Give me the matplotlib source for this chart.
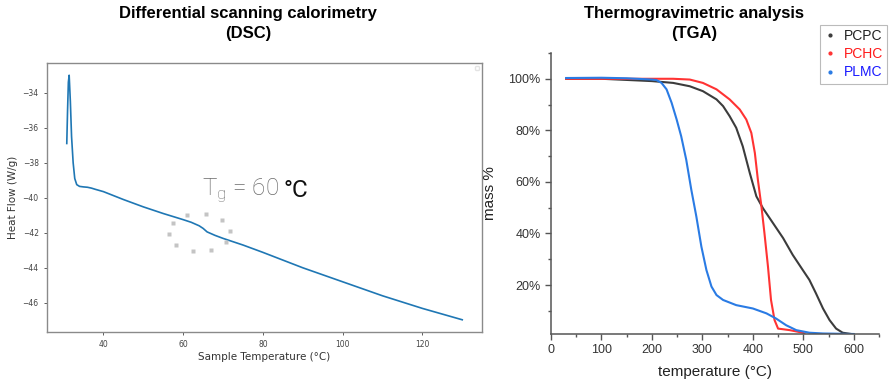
import numpy as np
import matplotlib.pyplot as plt
from matplotlib.lines import Line2D
from matplotlib.ticker import MultipleLocator, FuncFormatter

# ---- DSC data ----
dsc_temp = [30.8, 31.0, 31.2, 31.4, 31.7, 32.0, 32.4, 32.8, 33.3, 34.0, 35.0, 36.0,
            37.0, 38.0, 40.0, 45.0, 50.0, 55.0, 60.0, 62.0, 64.0, 65.0, 66.0, 68.0,
            70.0, 75.0, 80.0, 90.0, 100.0, 110.0, 120.0, 130.0]
dsc_heat = [-36.9, -35.0, -33.4, -33.0, -34.5, -36.5, -38.0, -38.9, -39.25, -39.35, -39.38, -39.4,
            -39.45, -39.52, -39.65, -40.1, -40.52, -40.9, -41.25, -41.4, -41.6, -41.75, -41.95, -42.15,
            -42.32, -42.7, -43.12, -44.0, -44.8, -45.6, -46.32, -46.97]

# ---- TGA data ----
pcpc_t = [30, 100, 200, 242, 275, 301, 328, 341, 354, 367, 380, 394, 407, 420, 440,
          460, 479, 499, 512, 525, 539, 552, 565, 578, 595]
pcpc_m = [100, 100, 99.1, 98.4, 97.1, 95.2, 92, 89.4, 85.5, 81, 73.8, 63.4, 54.4, 49.8, 44,
          38.2, 31.7, 25.8, 22, 16.8, 10.9, 6.4, 3.1, 1.5, 1.0]

pchc_t = [30, 100, 200, 242, 275, 301, 328, 354, 374, 387, 397, 404, 410, 417, 423,
          430, 436, 443, 450, 473, 499, 502]
pchc_m = [100, 100, 100, 100, 99.7, 98.4, 95.9, 92, 88.1, 84.2, 79, 71.2, 60.8, 50.5, 40.1,
          27.1, 14.2, 6.4, 3.1, 2.5, 1.5, 1.2]

plmc_t = [30, 100, 150, 200, 209, 219, 229, 239, 249, 258, 268, 278, 288, 298, 308,
          318, 328, 341, 367, 400, 427, 446, 466, 486, 512, 539, 600]
plmc_m = [100.3, 100.4, 100.2, 99.7, 99.5, 98.4, 95.9, 90.7, 84.2, 77.7, 68.6, 57, 46.6, 34.9, 25.8,
          19.4, 16.1, 14.2, 12.2, 10.9, 9.0, 7.0, 4.4, 2.5, 1.5, 1.2, 1.0]

names = ["PCPC", "PCHC", "PLMC"]
line_colors = ["#3c3c3c", "#ff3333", "#2a7be4"]
text_colors = ["#222222", "#ff1a1a", "#1a1aff"]

title_font = ["Liberation Sans", "DejaVu Sans"]

fig = plt.figure(figsize=(8.96, 3.84), dpi=100)

# ================= DSC =================
ax1 = fig.add_axes([47/896, 1-332/384, 435/896, 269/384])
ax1.plot(dsc_temp, dsc_heat, color="#1f77b4", lw=1.2)
ax1.set_xticks([40, 60, 80, 100, 120])
ax1.set_yticks([-46, -44, -42, -40, -38, -36, -34])
ax1.tick_params(labelsize=5.5, length=2.5, width=0.6, colors="#444444")
for s in ax1.spines.values():
    s.set_color("#8a8a8a")
    s.set_linewidth(1.0)
ax1.set_xlabel("Sample Temperature (°C)", fontsize=7.5, color="#333333", labelpad=2)
ax1.set_ylabel("Heat Flow (W/g)", fontsize=7.5, color="#333333", labelpad=3)
leg1 = ax1.legend(handles=[], labels=[], loc="upper right", fontsize=4)
leg1.get_frame().set_edgecolor("#dddddd")

# loading-spinner dots around the Tg step
ang = np.linspace(0, 2*np.pi, 10, endpoint=False) + 0.1
ax1.plot(64.0 + 7.7*np.cos(ang), -41.98 + 1.08*np.sin(ang), ls="none",
         marker="s", ms=2.5, color="#c4c4c4", mec="none")

fig.text(279/896, 1-190/384, "T$_\\mathregular{g}$ = 60", ha="right", va="center",
         fontsize=17.5, color="#6a6a6a", family=["Roboto", "DejaVu Sans"], fontweight="light")
fig.text(283/896, 1-190/384, "°C", ha="left", va="center",
         fontsize=17.5, color="#111111", family=["Roboto", "DejaVu Sans"])

fig.text(248/896, 1-6/384, "Differential scanning calorimetry\n(DSC)", ha="center", va="top",
         fontsize=12, fontweight="bold", family=title_font, linespacing=1.45)

# ================= TGA =================
ax2 = fig.add_axes([551/896, 1-334/384, 328/896, 281/384])
for t, m, c in zip([pcpc_t, pchc_t, plmc_t], [pcpc_m, pchc_m, plmc_m], line_colors):
    ax2.plot(t, m, color=c, lw=1.5)
ax2.set_xlim(0, 650)
ax2.set_ylim(1, 110)
ax2.xaxis.set_major_locator(MultipleLocator(100))
ax2.xaxis.set_minor_locator(MultipleLocator(50))
ax2.set_yticks([20, 40, 60, 80, 100])
ax2.set_yticks([10, 30, 50, 70, 90, 110], minor=True)
ax2.yaxis.set_major_formatter(FuncFormatter(lambda v, p: f"{v:.0f}%"))
ax2.spines["top"].set_visible(False)
ax2.spines["right"].set_visible(False)
for s in ["left", "bottom"]:
    ax2.spines[s].set_color("#555555")
    ax2.spines[s].set_linewidth(1.1)
ax2.tick_params(which="major", direction="out", length=4, width=1.0, colors="#555555",
                labelsize=9, labelcolor="#333333")
ax2.tick_params(which="minor", direction="out", length=2.5, width=1.0, colors="#555555")
for lab in ax2.get_xticklabels() + ax2.get_yticklabels():
    lab.set_family(["Liberation Sans", "DejaVu Sans"])
ax2.set_xlabel("temperature (°C)", fontsize=11, color="#222222", labelpad=6,
               family=["Liberation Sans", "DejaVu Sans"])
ax2.set_ylabel("mass %", fontsize=11, color="#222222", labelpad=8,
               family=["Liberation Sans", "DejaVu Sans"])

fig.text(694/896, 1-6/384, "Thermogravimetric analysis\n(TGA)", ha="center", va="top",
         fontsize=12, fontweight="bold", family=title_font, linespacing=1.45)

handles = [Line2D([], [], ls="none", marker=".", ms=4, color=c) for c in line_colors]
leg2 = fig.legend(handles, names, loc="upper left", bbox_to_anchor=(820/896, 1-25/384),
                  frameon=True, fancybox=False, edgecolor="#aaaaaa",
                  handlelength=0.8, handletextpad=0.6, labelspacing=0.3,
                  borderpad=0.3, borderaxespad=0.0,
                  prop={"family": ["Liberation Sans", "DejaVu Sans"], "size": 10})
leg2.get_frame().set_linewidth(0.8)
for txt, c in zip(leg2.get_texts(), text_colors):
    txt.set_color(c)

fig.savefig("out.png", dpi=100, facecolor="white")
